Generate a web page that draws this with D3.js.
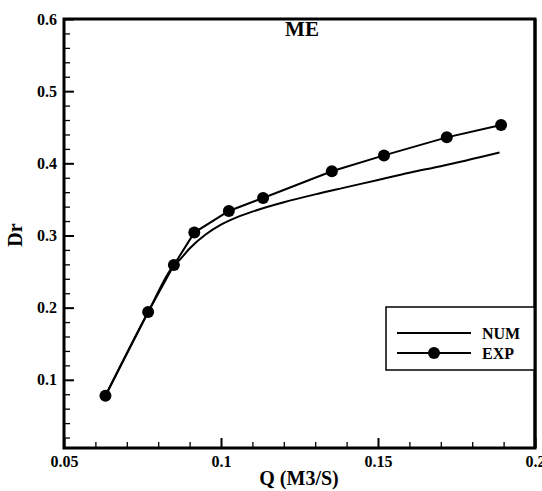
<!DOCTYPE html>
<html>
<head>
<meta charset="utf-8">
<script src="https://cdn.jsdelivr.net/npm/d3@7"></script>
<style>
  html, body { margin: 0; padding: 0; background: #fff; }
  svg { display: block; }
  text { font-family: "Liberation Serif", "Times New Roman", serif; font-weight: bold; fill: #000; }
</style>
</head>
<body>
<svg id="chart" width="542" height="491"></svg>
<script>
// Measured discharge vs. Dr (EXP) and the numerical prediction (NUM)
const expQ  = [0.0632, 0.0768, 0.0850, 0.0915, 0.1025, 0.1134, 0.1353, 0.1519, 0.1719, 0.1892];
const expDr = [0.078,  0.194,  0.259,  0.304,  0.334,  0.352,  0.389,  0.411,  0.436,  0.453];

const numQ  = [0.0632, 0.0768, 0.0850, 0.0870, 0.0900, 0.0950, 0.1000, 0.1050, 0.1100, 0.1200, 0.1300, 0.1400, 0.1500, 0.1600, 0.1700, 0.1887];
const numDr = [0.078,  0.194,  0.259,  0.267,  0.282,  0.301,  0.315,  0.325,  0.333,  0.346,  0.357,  0.367,  0.377,  0.387,  0.396,  0.415];

const xTicks = [0.05, 0.1, 0.15, 0.2];
const xTickLabels = ["0.05", "0.1", "0.15", "0.2"];
const yTicks = [0.1, 0.2, 0.3, 0.4, 0.5, 0.6];
const yTickLabels = ["0.1", "0.2", "0.3", "0.4", "0.5", "0.6"];
const seriesNames = ["NUM", "EXP"];

const svg = d3.select("#chart");
const L = 64, R = 535, T = 19, B = 448;

const x = d3.scaleLinear().domain([0.05, 0.2]).range([L, R]);
const y = d3.scaleLinear().domain([0.0055, 0.6]).range([B, T]);

// minor ticks
const xMinor = d3.range(0.05, 0.2001, 0.01).filter(v => !xTicks.some(t => Math.abs(t - v) < 1e-6));
const yMinor = d3.range(0.02, 0.6001, 0.02).filter(v => !yTicks.some(t => Math.abs(t - v) < 1e-6));

const xAxis = d3.axisBottom(x).tickValues(xTicks).tickSize(-10).tickPadding(8)
  .tickFormat((d, i) => xTickLabels[i]);
const gx = svg.append("g").attr("transform", `translate(0,${B})`).call(xAxis);
gx.select(".domain").remove();
gx.selectAll(".tick line").attr("stroke", "#000").attr("stroke-width", 2);
gx.selectAll(".tick text").attr("font-size", 16).attr("font-family", "Liberation Serif").attr("font-weight", "bold");

const gxm = svg.append("g").attr("transform", `translate(0,${B})`)
  .call(d3.axisBottom(x).tickValues(xMinor).tickSize(-6).tickFormat(""));
gxm.select(".domain").remove();
gxm.selectAll(".tick line").attr("stroke", "#000").attr("stroke-width", 1.3);

const yAxis = d3.axisLeft(y).tickValues(yTicks).tickSize(-10).tickPadding(7)
  .tickFormat((d, i) => yTickLabels[i]);
const gy = svg.append("g").attr("transform", `translate(${L},0)`).call(yAxis);
gy.select(".domain").remove();
gy.selectAll(".tick line").attr("stroke", "#000").attr("stroke-width", 2);
gy.selectAll(".tick text").attr("font-size", 16).attr("font-family", "Liberation Serif").attr("font-weight", "bold");

const gym = svg.append("g").attr("transform", `translate(${L},0)`)
  .call(d3.axisLeft(y).tickValues(yMinor).tickSize(-6).tickFormat(""));
gym.select(".domain").remove();
gym.selectAll(".tick line").attr("stroke", "#000").attr("stroke-width", 1.3);

// frame
svg.append("rect").attr("x", L).attr("y", T).attr("width", R - L).attr("height", B - T)
  .attr("fill", "none").attr("stroke", "#000").attr("stroke-width", 3);

// series
const numData = numQ.map((q, i) => [q, numDr[i]]);
const expData = expQ.map((q, i) => [q, expDr[i]]);

svg.append("path").datum(numData)
  .attr("fill", "none").attr("stroke", "#000").attr("stroke-width", 2)
  .attr("d", d3.line().x(d => x(d[0])).y(d => y(d[1])).curve(d3.curveMonotoneX));

svg.append("path").datum(expData)
  .attr("fill", "none").attr("stroke", "#000").attr("stroke-width", 2)
  .attr("d", d3.line().x(d => x(d[0])).y(d => y(d[1])));

svg.append("g").selectAll("circle").data(expData).join("circle")
  .attr("cx", d => x(d[0])).attr("cy", d => y(d[1])).attr("r", 6).attr("fill", "#000");

// titles
svg.append("text").attr("x", 302).attr("y", 36).attr("text-anchor", "middle")
  .attr("font-size", 21).text("ME");
svg.append("text").attr("x", 299).attr("y", 485).attr("text-anchor", "middle")
  .attr("font-size", 20).text("Q (M3/S)");
svg.append("text").attr("transform", "translate(22,235) rotate(-90)").attr("text-anchor", "middle")
  .attr("font-size", 20).text("Dr");

// legend
const lg = svg.append("g");
lg.append("rect").attr("x", 386).attr("y", 307).attr("width", R - 386).attr("height", 63)
  .attr("fill", "#fff").attr("stroke", "#000").attr("stroke-width", 1.5);
const rows = [333, 353];
seriesNames.forEach((name, i) => {
  lg.append("line").attr("x1", 397).attr("x2", 471).attr("y1", rows[i]).attr("y2", rows[i])
    .attr("stroke", "#000").attr("stroke-width", 2);
  if (name === "EXP") {
    lg.append("circle").attr("cx", 434).attr("cy", rows[i]).attr("r", 6).attr("fill", "#000");
  }
  lg.append("text").attr("x", 482).attr("y", rows[i] + 6).attr("font-size", 16).text(name);
});
// redraw right edge of frame over legend
svg.append("line").attr("x1", R).attr("x2", R).attr("y1", T).attr("y2", B)
  .attr("stroke", "#000").attr("stroke-width", 3);
</script>
</body>
</html>
